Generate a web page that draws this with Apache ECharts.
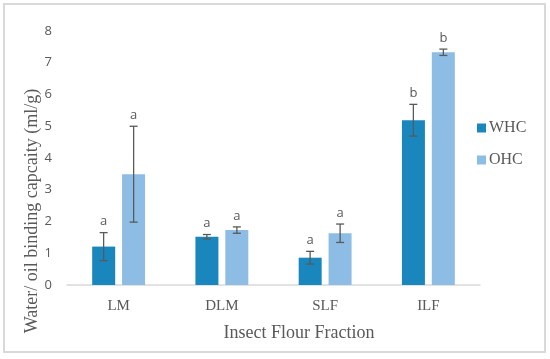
<!DOCTYPE html>
<html>
<head>
<meta charset="utf-8">
<script src="https://cdn.jsdelivr.net/npm/echarts@6/dist/echarts.min.js"></script>
<style>html,body{margin:0;padding:0;background:#fff;}#c{width:550px;height:359px;}</style>
</head>
<body>
<div id="c"></div>
<script>
var categories = ['LM', 'DLM', 'SLF', 'ILF'];
var whc = [1.21, 1.52, 0.86, 5.19];
var ohc = [3.49, 1.73, 1.63, 7.33];
var whcErr = [0.44, 0.07, 0.20, 0.50];
var ohcErr = [1.51, 0.10, 0.29, 0.10];
var whcLetters = ['a', 'a', 'a', 'b'];
var ohcLetters = ['a', 'a', 'a', 'b'];
var yTicks = [0, 1, 2, 3, 4, 5, 6, 7, 8];

var darkBlue = '#1a86be';
var lightBlue = '#8dbde4';
var grey = '#595959';

function errSeries(vals, errs, letters, offset) {
  var data = vals.map(function (v, i) { return [i, v, errs[i], letters[i]]; });
  return {
    type: 'custom',
    data: data,
    z: 10,
    silent: true,
    renderItem: function (params, api) {
      var i = api.value(0), v = api.value(1), e = api.value(2);
      var letter = data[params.dataIndex][3];
      var top = api.coord([i, v + e]);
      var bot = api.coord([i, v - e]);
      var x = top[0] + offset;
      var cap = 4;
      var st = { stroke: grey, lineWidth: 1.3 };
      return {
        type: 'group',
        children: [
          { type: 'line', shape: { x1: x, y1: top[1], x2: x, y2: bot[1] }, style: st },
          { type: 'line', shape: { x1: x - cap, y1: top[1], x2: x + cap, y2: top[1] }, style: st },
          { type: 'line', shape: { x1: x - cap, y1: bot[1], x2: x + cap, y2: bot[1] }, style: st },
          { type: 'text', style: { text: letter, x: x, y: top[1] - 11, align: 'center', verticalAlign: 'middle', fill: grey, font: '13px "Open Sans"' } }
        ]
      };
    }
  };
}

var chart = echarts.init(document.getElementById('c'));
chart.setOption({
  animation: false,
  grid: { left: 67, right: 70, top: 31, bottom: 74 },
  legend: {
    orient: 'vertical',
    left: 477,
    top: 119,
    padding: 0,
    icon: 'rect',
    itemWidth: 9,
    itemHeight: 9,
    itemGap: 14,
    textStyle: { color: grey, fontFamily: 'Liberation Serif', fontSize: 16, lineHeight: 18, padding: [0, 0, 0, -2] },
    data: ['WHC', 'OHC']
  },
  xAxis: {
    type: 'category',
    data: categories,
    axisLine: { lineStyle: { color: '#d9d9d9', width: 1.5 } },
    axisTick: { show: false },
    axisLabel: { color: grey, fontFamily: 'Liberation Serif', fontSize: 15, margin: 14 }
  },
  yAxis: {
    type: 'value',
    min: yTicks[0],
    max: yTicks[yTicks.length - 1],
    interval: 1,
    splitLine: { show: false },
    axisLine: { show: false },
    axisTick: { show: false },
    axisLabel: { color: grey, fontFamily: 'Open Sans', fontSize: 13, margin: 15 }
  },
  graphic: [
    { type: 'rect', shape: { x: 4, y: 4, width: 541, height: 348 }, style: { fill: 'none', stroke: '#d9d9d9', lineWidth: 2 }, silent: true },
    { type: 'text', x: 32, y: 211, rotation: Math.PI / 2, style: { text: 'Water/ oil binding capcaity (ml/g)', fill: grey, font: '18px "Liberation Serif"', align: 'center', verticalAlign: 'middle' }, silent: true },
    { type: 'text', x: 299, y: 333, style: { text: 'Insect Flour Fraction', fill: grey, font: '18px "Liberation Serif"', align: 'center', verticalAlign: 'middle' }, silent: true }
  ],
  series: [
    { name: 'WHC', type: 'bar', data: whc, barWidth: 23, barGap: '30%', itemStyle: { color: darkBlue } },
    { name: 'OHC', type: 'bar', data: ohc, barWidth: 23, barGap: '30%', itemStyle: { color: lightBlue } },
    errSeries(whc, whcErr, whcLetters, -15),
    errSeries(ohc, ohcErr, ohcLetters, 15)
  ]
});
</script>
</body>
</html>
